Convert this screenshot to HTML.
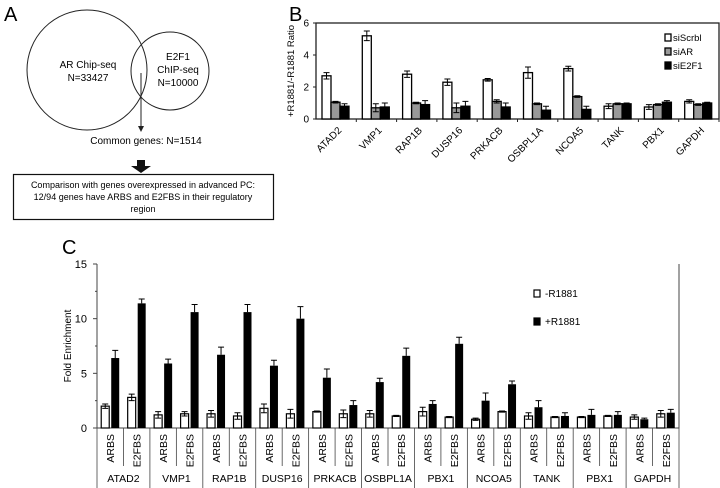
<!DOCTYPE html>
<html><head><meta charset="utf-8"><style>
body{margin:0;background:#fff;}
svg{display:block;font-family:"Liberation Sans",Arial,sans-serif;}
</style></head><body>
<svg id="fig" width="720" height="488" viewBox="0 0 720 488">
<g>
<text x="4" y="21" font-size="20">A</text>
<circle cx="87" cy="70" r="60" fill="none" stroke="#222" stroke-width="1"/>
<circle cx="170" cy="71" r="39" fill="none" stroke="#222" stroke-width="1"/>
<text x="88" y="68" font-size="10" text-anchor="middle">AR Chip-seq</text>
<text x="88" y="81" font-size="10" text-anchor="middle">N=33427</text>
<text x="178" y="60" font-size="10" text-anchor="middle">E2F1</text>
<text x="178" y="73" font-size="10" text-anchor="middle">ChIP-seq</text>
<text x="178" y="86" font-size="10" text-anchor="middle">N=10000</text>
<line x1="141" y1="73" x2="141" y2="128" stroke="#222"/>
<polygon points="138,126 144,126 141,132" fill="#222"/>
<text x="146" y="144" font-size="10" text-anchor="middle">Common genes: N=1514</text>
<polygon points="137,160 145,160 145,166 151,166 141,173 131,166 137,166" fill="#111"/>
<rect x="13.5" y="174.5" width="260" height="45" fill="none" stroke="#111" stroke-width="1.2"/>
<text x="143" y="188" font-size="9" text-anchor="middle">Comparison with genes overexpressed in advanced PC:</text>
<text x="143" y="200" font-size="9" text-anchor="middle">12/94 genes have ARBS and E2FBS in their regulatory</text>
<text x="143" y="212" font-size="9" text-anchor="middle">region</text>
</g>
<g id="pb">
<text x="289" y="21" font-size="20">B</text>
</g>
<g id="pc">
<text x="62" y="254" font-size="20">C</text>
</g>
</svg>
<script>
// Panel B data
const bGenes=["ATAD2","VMP1","RAP1B","DUSP16","PRKACB","OSBPL1A","NCOA5","TANK","PBX1","GAPDH"];
const bScr=[2.7,5.2,2.8,2.3,2.45,2.9,3.15,0.8,0.75,1.1];
const bAR=[1.05,0.7,1.0,0.7,1.1,0.95,1.4,0.95,0.9,0.9];
const bE2F1=[0.8,0.75,0.9,0.8,0.75,0.55,0.6,0.95,1.05,1.0];
const bScrErr=[0.2,0.3,0.2,0.2,0.08,0.35,0.15,0.15,0.15,0.1];
const bARErr=[0.05,0.25,0.05,0.3,0.1,0.05,0.05,0.05,0.05,0.05];
const bE2Err=[0.15,0.25,0.25,0.3,0.25,0.25,0.2,0.05,0.1,0.05];
const bTicks=[0,2,4,6];
// Panel C data
const cGenes=["ATAD2","VMP1","RAP1B","DUSP16","PRKACB","OSBPL1A","PBX1","NCOA5","TANK","PBX1","GAPDH"];
const cSites=["ARBS","E2FBS"];
const cMinus=[2.0,2.8,1.2,1.3,1.3,1.1,1.8,1.3,1.5,1.3,1.3,1.1,1.5,1.0,0.8,1.5,1.1,1.0,1.0,1.1,1.0,1.3];
const cPlus=[6.4,11.4,5.9,10.6,6.7,10.6,5.7,10.0,4.6,2.1,4.2,6.6,2.2,7.7,2.5,4.0,1.9,1.1,1.2,1.2,0.8,1.4];
const cMinusErr=[0.2,0.3,0.3,0.2,0.3,0.3,0.4,0.4,0.05,0.35,0.3,0.05,0.4,0.05,0.1,0.05,0.3,0.05,0.05,0.05,0.2,0.3];
const cPlusErr=[0.7,0.4,0.4,0.7,0.7,0.7,0.5,1.1,0.8,0.4,0.35,0.7,0.3,0.6,0.7,0.3,0.6,0.3,0.5,0.3,0.1,0.3];
const cTicks=[0,5,10,15];

const NS="http://www.w3.org/2000/svg";
function mk(parent,tag,attrs,txt){const e=document.createElementNS(NS,tag);for(const k in attrs)e.setAttribute(k,attrs[k]);if(txt!==undefined)e.textContent=txt;parent.appendChild(e);return e;}

// ---- Panel B ----
const pb=document.getElementById('pb');
const bx0=316,bx1=719,by0=119,by1=23;
const bY=v=>by0-(v/6)*(by0-by1);
const bGW=(bx1-bx0)/bGenes.length;
let e=mk(pb,'rect',{x:bx0,y:by1,width:bx1-bx0,height:by0-by1,fill:'none',stroke:'#222','stroke-width':1.3});


bTicks.forEach(t=>{
 let l=mk(pb,'line',{x1:bx0-3,x2:bx0,y1:bY(t),y2:bY(t),stroke:'#222'});
 
 
 let tx=mk(pb,'text',{x:bx0-7,y:bY(t)+3.5,'font-size':10,'text-anchor':'end'},t);
 
 
});
e=mk(pb,'text',{x:0,y:0,'font-size':9.5,'text-anchor':'middle',transform:`translate(${bx0-22},${(by0+by1)/2}) rotate(-90)`},'+R1881/-R1881 Ratio');


const bSeries=[[bScr,bScrErr,'#fff'],[bAR,bARErr,'#999'],[bE2F1,bE2Err,'#000']];
const bBW=9;
bGenes.forEach((g,i)=>{
 const gx=bx0+i*bGW;
 let tk=mk(pb,'line',{x1:gx+bGW,x2:gx+bGW,y1:by0,y2:by0+3,stroke:'#222'});
 
 
 bSeries.forEach((s,j)=>{
  const x=gx+6+j*bBW, v=s[0][i], er=s[1][i];
  let r=mk(pb,'rect',{x:x,y:bY(v),width:bBW,height:by0-bY(v),fill:s[2],stroke:'#000','stroke-width':1.3});
  
  
  const cx=x+bBW/2;
  let el=mk(pb,'path',{d:`M${cx},${bY(v+er)}V${bY(v-er)}M${cx-3},${bY(v+er)}H${cx+3}M${cx-3},${bY(v-er)}H${cx+3}`,stroke:'#000',fill:'none','stroke-width':1});
  
  
 });
 let lb=mk(pb,'text',{x:0,y:0,'font-size':10,'text-anchor':'end',transform:`translate(${gx+bGW/2+6},${by0+12}) rotate(-45)`},g);
 
 
});
const bLeg=['siScrbl','siAR','siE2F1'];
bLeg.forEach((n,j)=>{
 const y=41+j*14;
 let r=mk(pb,'rect',{x:665,y:y-7,width:6,height:7,fill:bSeries[j][2],stroke:'#000','stroke-width':1.3});
 
 
 let t=mk(pb,'text',{x:673,y:y,'font-size':9.5},n);
 
 
});

// ---- Panel C ----
const pc=document.getElementById('pc');
const cx0=97,cx1=679,cy0=428,cy1=264;
const cY=v=>cy0-(v/15)*(cy0-cy1);
const n=cPlus.length, cw=(cx1-cx0)/n;
e=mk(pc,'path',{d:`M${cx0},${cy1}V${cy0}H${cx1}V${cy1}`,fill:'none',stroke:'#444','stroke-width':1});


cTicks.forEach(t=>{
 let l=mk(pc,'line',{x1:cx0-4,x2:cx0,y1:cY(t),y2:cY(t),stroke:'#444'});
 
 
 let tx=mk(pc,'text',{x:cx0-10,y:cY(t)+4,'font-size':11,'text-anchor':'end'},t);
 
 
});
[2.5,7.5,12.5].forEach(t=>{
 let l=mk(pc,'line',{x1:cx0-2,x2:cx0,y1:cY(t),y2:cY(t),stroke:'#444'});
 
 
});
e=mk(pc,'text',{x:0,y:0,'font-size':10,'text-anchor':'middle',transform:`translate(71,${(cy0+cy1)/2}) rotate(-90)`},'Fold Enrichment');


const cBW=8;
for(let i=0;i<n;i++){
 const x=cx0+i*cw;
 const sep=mk(pc,'line',{x1:x,x2:x,y1:cy0,y2:(i%2===0)?488:466,stroke:'#444','stroke-width':0.8});
 
 
 const v1=cMinus[i],v2=cPlus[i];
 const xa=x+cw/2-cBW-1, xb=x+cw/2+1;
 let r1=mk(pc,'rect',{x:xa,y:cY(v1),width:cBW,height:cy0-cY(v1),fill:'#fff',stroke:'#000','stroke-width':1.2});
 
 
 let r2=mk(pc,'rect',{x:xb,y:cY(v2),width:cBW,height:cy0-cY(v2),fill:'#000'});
 
 
 const ca=xa+cBW/2, cb=xb+cBW/2;
 let e1=mk(pc,'path',{d:`M${ca},${cY(v1+cMinusErr[i])}V${cY(v1-cMinusErr[i])}M${ca-3},${cY(v1+cMinusErr[i])}H${ca+3}M${ca-3},${cY(v1-cMinusErr[i])}H${ca+3}`,stroke:'#000',fill:'none'});
 
 
 let e2=mk(pc,'path',{d:`M${cb},${cY(v2+cPlusErr[i])}V${cY(v2)}M${cb-3},${cY(v2+cPlusErr[i])}H${cb+3}`,stroke:'#000',fill:'none'});
 
 
 let lb=mk(pc,'text',{x:0,y:0,'font-size':10.5,'text-anchor':'end',transform:`translate(${x+cw/2+4},${cy0+6}) rotate(-90)`},cSites[i%2]);
 
 
}
let endSep=mk(pc,'line',{x1:cx1,x2:cx1,y1:cy0,y2:488,stroke:'#444','stroke-width':0.8});


cGenes.forEach((g,k)=>{
 let t=mk(pc,'text',{x:cx0+(k+0.5)*2*cw,y:482,'font-size':10.5,'text-anchor':'middle'},g);
 
 
});
[['-R1881','#fff',297],['+R1881','#000',325]].forEach(([nm,f,y])=>{
 let r=mk(pc,'rect',{x:534,y:y-7,width:6,height:7,fill:f,stroke:'#000','stroke-width':1.2});
 
 
 let t=mk(pc,'text',{x:545,y:y,'font-size':10},nm);
 
 
});
</script>
</body></html>
